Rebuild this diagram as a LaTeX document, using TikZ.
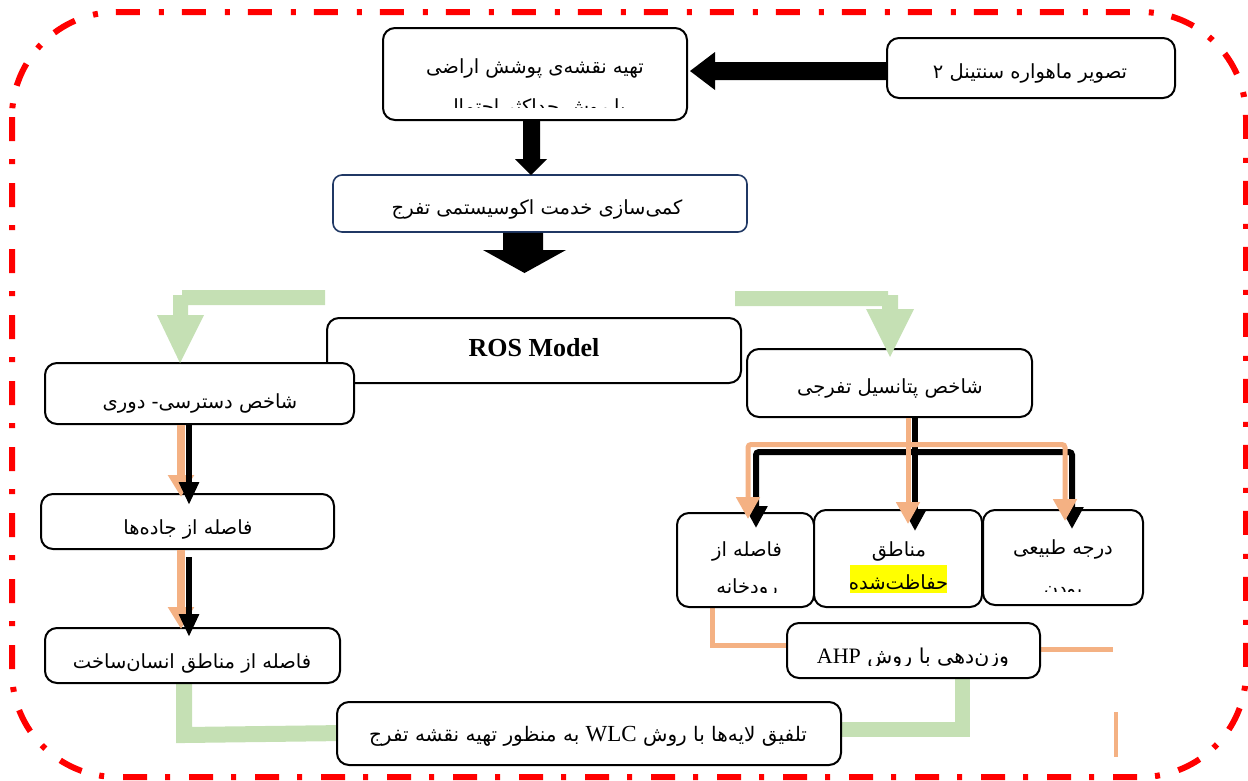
\documentclass[tikz,border=0pt]{standalone}
\usepackage{fontspec}
\setmainfont{Liberation Serif}
\newfontfamily\fa[Script=Arabic]{DejaVu Sans}
\TeXXeTstate=1
\usetikzlibrary{arrows.meta,calc}
\definecolor{lgreen}{HTML}{C5E0B4}
\definecolor{lorange}{HTML}{F4B183}
\definecolor{navy}{HTML}{203864}
\definecolor{hl}{HTML}{FFFF00}
\begin{document}
\begin{tikzpicture}[x=1pt,y=-1pt,
 box/.style={draw=black, line width=2pt, rounded corners=12pt, fill=white, inner sep=0pt},
 fatxt/.style={font=\fa\fontsize{19.5}{22}\selectfont, inner sep=0pt, anchor=base},
 oarr/.style={draw=lorange, line width=8pt, -{Triangle[length=22pt,width=25pt]}},
 barr/.style={draw=black, line width=6pt, -{Triangle[length=23pt,width=19pt]}},
 oarrb/.style={draw=lorange, line width=5pt, rounded corners=3pt, -{Triangle[length=22pt,width=23pt]}},
 barrb/.style={draw=black, line width=6pt, rounded corners=3pt, -{Triangle[length=22pt,width=22pt]}},
 oline/.style={draw=lorange, line width=5pt},
 gline/.style={draw=lgreen, line width=15pt},
 blockarrow/.style={fill=black},
 greenarrow/.style={fill=lgreen},
]
\useasboundingbox (0,0) rectangle (1248,780);
\clip (0,0) rectangle (1248,780);
% frame
\draw[red, line width=6pt, dash pattern=on 24pt off 18pt on 5pt off 19pt, rounded corners=105pt] (12,12) rectangle (1246,777);

% green and orange plain lines (behind boxes)
\coordinate (gl1) at (184,683);
\coordinate (gl2) at (184,735);
\coordinate (gr1) at (962,678);
\coordinate (gr2) at (962,729);
\draw[gline, line width=16pt] (gl1) -- (gl2) -- (345,733);
\draw[gline] (gr1) -- (gr2) -- (835,729);
\draw[oline] (712,600) -- (712,645) -- (792,645);
\coordinate (oe) at (1113,649);
\draw[oline] (1035,649) -- (oe);
\coordinate (os1) at (1116,712);
\coordinate (os2) at (1116,757);
\draw[lorange, line width=4pt] (os1) -- (os2);

% boxes
\node[box, minimum width=304pt, minimum height=92pt] (map) at (535,74) {};
\node[box, minimum width=288pt, minimum height=60pt] (sat) at (1031,68) {};
\node[box, draw=navy, line width=1.6pt, rounded corners=9pt, minimum width=414pt, minimum height=57pt] (quant) at (540,203.5) {};
\node[box, minimum width=414pt, minimum height=65pt] (ros) at (534,350.5) {};
\node[box, minimum width=309pt, minimum height=61pt] (acc) at (199.5,393.5) {};
\node[box, minimum width=285pt, minimum height=68pt] (pot) at (889.5,383) {};
\node[box, minimum width=293pt, minimum height=55pt] (road) at (187.5,521.5) {};
\node[box, minimum width=295pt, minimum height=55pt] (human) at (192.5,655.5) {};
\node[box, minimum width=137pt, minimum height=94pt] (river) at (745.5,560) {};
\node[box, minimum width=168pt, minimum height=97pt] (prot) at (898,558.5) {};
\node[box, minimum width=160pt, minimum height=95pt] (nat) at (1063,557.5) {};
\node[box, minimum width=253pt, minimum height=55pt] (ahp) at (913.5,650.5) {};
\node[box, minimum width=504pt, minimum height=63pt] (wlc) at (589,733.5) {};

% texts
\node[fatxt] (t1a) at (535,73) {\beginR تهیه نقشه‌ی پوشش اراضی\endR};
\begin{scope}
\clip (390,85) rectangle (680,107);
\node[fatxt] (t1b) at (535,113) {\beginR با روش حداکثر احتمال\endR};
\end{scope}
\node[fatxt] (t2) at (1030,78) {\beginR تصویر ماهواره سنتینل ۲\endR};
\node[fatxt] (t3) at (537,214) {\beginR کمی‌سازی خدمت اکوسیستمی تفرج\endR};
\node[font=\bfseries\fontsize{26}{30}\selectfont, inner sep=0pt, anchor=base] (t4) at (534,356) {ROS Model};
\node[fatxt] (t5) at (200,408) {\beginR شاخص دسترسی- دوری\endR};
\node[fatxt] (t6) at (890,393) {\beginR شاخص پتانسیل تفرجی\endR};
\node[fatxt] (t7) at (188,534) {\beginR فاصله از جاده‌ها\endR};
\node[fatxt] (t8) at (192,668) {\beginR فاصله از مناطق انسان‌ساخت\endR};
\node[fatxt] (t9a) at (747,556) {\beginR فاصله از\endR};
\begin{scope}
\clip (680,565) rectangle (810,592);
\node[fatxt] (t9b) at (747,593) {\beginR رودخانه\endR};
\end{scope}
\node[fatxt] (t10a) at (899,556) {\beginR مناطق\endR};
\node[fill=hl, minimum width=97pt, minimum height=28pt, inner sep=0pt] (hlbox) at (898.5,579) {};
\node[fatxt] (t10b) at (898.5,589) {\beginR حفاظت‌شده\endR};
\node[fatxt] (t11a) at (1063,554) {\beginR درجه طبیعی\endR};
\begin{scope}
\clip (990,565) rectangle (1135,591);
\node[fatxt] (t11b) at (1063,595) {\beginR بودن\endR};
\end{scope}
\begin{scope}
\clip (800,630) rectangle (1030,665);
\node[fatxt, font=\fa\fontsize{20.5}{24}\selectfont] (t12) at (913,663) {\beginR وزن‌دهی با روش \beginL{\rmfamily\fontsize{22}{24}\selectfont AHP}\endL\endR};
\end{scope}
\node[fatxt, font=\fa\fontsize{20}{24}\selectfont] (t13) at (588,741) {\beginR تلفیق لایه‌ها با روش \beginL{\rmfamily\fontsize{23}{24}\selectfont WLC}\endL{} به منظور تهیه نقشه تفرج\endR};

% black block arrows
\fill[blockarrow] (sat.west |- 0,62) -- (715,62) -- (715,52) -- (690,71) -- (715,90) -- (715,80) -- (sat.west |- 0,80) -- cycle;
\fill[blockarrow] (523,0 |- map.south) -- (540,0 |- map.south) -- (540,159) -- (547,159) -- (531,175) -- (515,159) -- (523,159) -- cycle;
\fill[blockarrow] (503,0 |- quant.south) -- (543,0 |- quant.south) -- (543,250) -- (566,250) -- (524.5,273) -- (483,250) -- (503,250) -- cycle;

% green block arrows
\fill[greenarrow] (325,290) -- (325,305) -- (188,305) -- (188,315) -- (204,315) -- (180,363) -- (157,315) -- (173,315) -- (173,295) -- (182,295) -- (182,290) -- cycle;
\fill[greenarrow] (735,291) -- (888,291) -- (888,295) -- (898,295) -- (898,309) -- (914,309) -- (890,357) -- (866,309) -- (882,309) -- (882,306) -- (735,306) -- cycle;

% left chain
\draw[oarr] (181,0 |- acc.south) -- (181,497);
\draw[barr] (189,0 |- acc.south) -- (189,505);
\draw[oarr] (181,0 |- road.south) -- (181,629);
\draw[barr] (189,557) -- (189,637);

% right chain
\draw[barrb] (915,0 |- pot.south) -- (915,531);
\draw[barrb] (915,452) -- (756,452) -- (756,528);
\draw[barrb] (915,452) -- (1072,452) -- (1072,529);
\draw[oarrb] (908,0 |- pot.south) -- (908,524);
\draw[oarrb] (908,444.5) -- (748,444.5) -- (748,519);
\draw[oarrb] (908,444.5) -- (1065,444.5) -- (1065,521);
\end{tikzpicture}
\end{document}
